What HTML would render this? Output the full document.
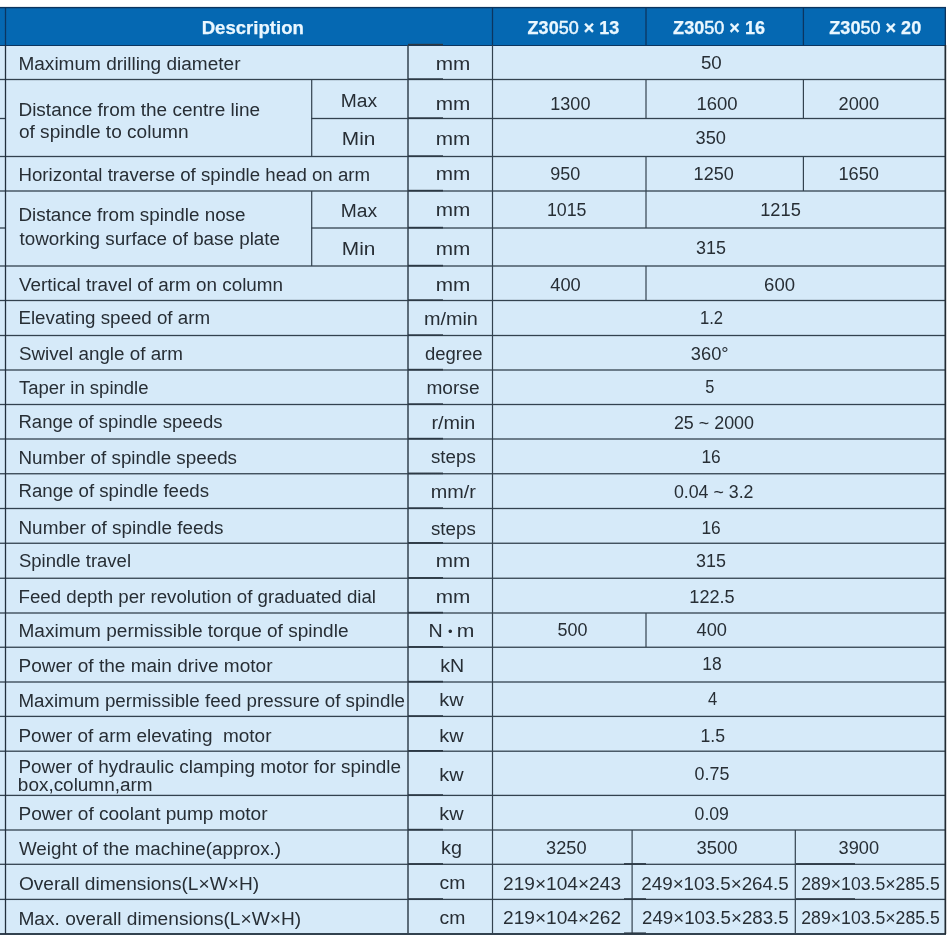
<!DOCTYPE html>
<html><head><meta charset="utf-8"><title>Z3050 specifications</title><style>
html,body{margin:0;padding:0;background:#fff;}
body{width:947px;height:939px;position:relative;overflow:hidden;font-family:"Liberation Sans",sans-serif;color:#272e35;}
#t{position:absolute;left:0;top:0;width:947px;height:939px;overflow:hidden;}
.bg{position:absolute;left:0;top:45px;width:946px;height:889px;background:#d6eaf9;}
.hd{position:absolute;left:0;top:7px;width:946px;height:38px;background:#0568b2;}
.l{position:absolute;}
.h{position:absolute;height:1px;background:#33424f;}
.v{position:absolute;width:1px;background:#33424f;}
.hv{position:absolute;width:1px;background:#0b3560;}
.x{position:absolute;white-space:pre;font-size:18px;line-height:20px;height:20px;transform-origin:0 0;}
.hx{color:#eaf7ff;font-weight:bold;font-size:18.7px;-webkit-text-stroke:0.25px #eaf7ff;}
.hx i{font-style:normal;font-weight:normal;-webkit-text-stroke:0.5px #eaf7ff;}

</style></head><body><div id="t">
<div class="bg"></div><div class="hd"></div>
<div class="h" style="left:0;top:44.5px;width:946px;height:1.5px;background:#0b3560"></div>
<div class="h" style="left:0;top:933px;width:946px;height:1.5px"></div>
<div class="l" style="left:0px;top:6px;width:946px;height:3px;background:linear-gradient(to bottom,rgba(11,53,96,0.10) 0px 1px,rgba(11,53,96,1.00) 1px 2px,rgba(11,53,96,0.30) 2px 3px)"></div>
<div class="l" style="left:0px;top:78px;width:946px;height:3px;background:linear-gradient(to bottom,rgba(51,66,79,0.15) 0px 1px,rgba(51,66,79,1.00) 1px 2px,rgba(51,66,79,0.15) 2px 3px)"></div>
<div class="l" style="left:0px;top:155px;width:946px;height:3px;background:linear-gradient(to bottom,rgba(51,66,79,0.15) 0px 1px,rgba(51,66,79,1.00) 1px 2px,rgba(51,66,79,0.15) 2px 3px)"></div>
<div class="l" style="left:0px;top:190px;width:946px;height:2px;background:linear-gradient(to bottom,rgba(51,66,79,0.65) 0px 1px,rgba(51,66,79,0.65) 1px 2px)"></div>
<div class="l" style="left:0px;top:265px;width:946px;height:2px;background:linear-gradient(to bottom,rgba(51,66,79,0.65) 0px 1px,rgba(51,66,79,0.65) 1px 2px)"></div>
<div class="l" style="left:0px;top:299px;width:946px;height:3px;background:linear-gradient(to bottom,rgba(51,66,79,0.15) 0px 1px,rgba(51,66,79,1.00) 1px 2px,rgba(51,66,79,0.15) 2px 3px)"></div>
<div class="l" style="left:0px;top:334px;width:946px;height:3px;background:linear-gradient(to bottom,rgba(51,66,79,0.15) 0px 1px,rgba(51,66,79,1.00) 1px 2px,rgba(51,66,79,0.15) 2px 3px)"></div>
<div class="l" style="left:0px;top:369px;width:946px;height:2px;background:linear-gradient(to bottom,rgba(51,66,79,0.65) 0px 1px,rgba(51,66,79,0.65) 1px 2px)"></div>
<div class="l" style="left:0px;top:403px;width:946px;height:3px;background:linear-gradient(to bottom,rgba(51,66,79,0.15) 0px 1px,rgba(51,66,79,1.00) 1px 2px,rgba(51,66,79,0.15) 2px 3px)"></div>
<div class="l" style="left:0px;top:438px;width:946px;height:2px;background:linear-gradient(to bottom,rgba(51,66,79,0.65) 0px 1px,rgba(51,66,79,0.65) 1px 2px)"></div>
<div class="l" style="left:0px;top:473px;width:946px;height:2px;background:linear-gradient(to bottom,rgba(51,66,79,0.90) 0px 1px,rgba(51,66,79,0.40) 1px 2px)"></div>
<div class="l" style="left:0px;top:507px;width:946px;height:3px;background:linear-gradient(to bottom,rgba(51,66,79,0.15) 0px 1px,rgba(51,66,79,1.00) 1px 2px,rgba(51,66,79,0.15) 2px 3px)"></div>
<div class="l" style="left:0px;top:542px;width:946px;height:2px;background:linear-gradient(to bottom,rgba(51,66,79,0.40) 0px 1px,rgba(51,66,79,0.90) 1px 2px)"></div>
<div class="l" style="left:0px;top:577px;width:946px;height:2px;background:linear-gradient(to bottom,rgba(51,66,79,0.40) 0px 1px,rgba(51,66,79,0.90) 1px 2px)"></div>
<div class="l" style="left:0px;top:612px;width:946px;height:2px;background:linear-gradient(to bottom,rgba(51,66,79,0.65) 0px 1px,rgba(51,66,79,0.65) 1px 2px)"></div>
<div class="l" style="left:0px;top:646px;width:946px;height:2px;background:linear-gradient(to bottom,rgba(51,66,79,0.40) 0px 1px,rgba(51,66,79,0.90) 1px 2px)"></div>
<div class="l" style="left:0px;top:681px;width:946px;height:2px;background:linear-gradient(to bottom,rgba(51,66,79,0.65) 0px 1px,rgba(51,66,79,0.65) 1px 2px)"></div>
<div class="l" style="left:0px;top:715px;width:946px;height:3px;background:linear-gradient(to bottom,rgba(51,66,79,0.25) 0px 1px,rgba(51,66,79,1.00) 1px 2px,rgba(51,66,79,0.05) 2px 3px)"></div>
<div class="l" style="left:0px;top:750px;width:946px;height:2px;background:linear-gradient(to bottom,rgba(51,66,79,0.45) 0px 1px,rgba(51,66,79,0.85) 1px 2px)"></div>
<div class="l" style="left:0px;top:794px;width:946px;height:3px;background:linear-gradient(to bottom,rgba(51,66,79,0.25) 0px 1px,rgba(51,66,79,1.00) 1px 2px,rgba(51,66,79,0.05) 2px 3px)"></div>
<div class="l" style="left:0px;top:829px;width:946px;height:2px;background:linear-gradient(to bottom,rgba(51,66,79,0.65) 0px 1px,rgba(51,66,79,0.65) 1px 2px)"></div>
<div class="l" style="left:0px;top:863px;width:946px;height:2px;background:linear-gradient(to bottom,rgba(51,66,79,0.35) 0px 1px,rgba(51,66,79,0.95) 1px 2px)"></div>
<div class="l" style="left:0px;top:898px;width:946px;height:3px;background:linear-gradient(to bottom,rgba(51,66,79,0.25) 0px 1px,rgba(51,66,79,1.00) 1px 2px,rgba(51,66,79,0.05) 2px 3px)"></div>
<div class="l" style="left:0px;top:117px;width:5px;height:3px;background:linear-gradient(to bottom,rgba(51,66,79,0.15) 0px 1px,rgba(51,66,79,1.00) 1px 2px,rgba(51,66,79,0.15) 2px 3px)"></div>
<div class="l" style="left:311px;top:117px;width:635px;height:3px;background:linear-gradient(to bottom,rgba(51,66,79,0.15) 0px 1px,rgba(51,66,79,1.00) 1px 2px,rgba(51,66,79,0.15) 2px 3px)"></div>
<div class="l" style="left:0px;top:227px;width:5px;height:2px;background:linear-gradient(to bottom,rgba(51,66,79,0.65) 0px 1px,rgba(51,66,79,0.65) 1px 2px)"></div>
<div class="l" style="left:311px;top:227px;width:635px;height:2px;background:linear-gradient(to bottom,rgba(51,66,79,0.65) 0px 1px,rgba(51,66,79,0.65) 1px 2px)"></div>
<div class="l" style="left:4px;top:45px;width:3px;height:889px;background:linear-gradient(to right,rgba(34,48,61,0.15) 0px 1px,rgba(34,48,61,1.00) 1px 2px,rgba(34,48,61,0.15) 2px 3px)"></div>
<div class="l" style="left:407px;top:45px;width:2px;height:889px;background:linear-gradient(to right,rgba(51,66,79,0.75) 0px 1px,rgba(51,66,79,0.75) 1px 2px)"></div>
<div class="l" style="left:491px;top:45px;width:3px;height:889px;background:linear-gradient(to right,rgba(51,66,79,0.10) 0px 1px,rgba(51,66,79,1.00) 1px 2px,rgba(51,66,79,0.10) 2px 3px)"></div>
<div class="l" style="left:944px;top:45px;width:3px;height:889px;background:linear-gradient(to right,rgba(35,43,50,0.50) 0px 1px,rgba(35,43,50,1.00) 1px 2px,rgba(35,43,50,0.20) 2px 3px)"></div>
<div class="l" style="left:311px;top:79.5px;width:2px;height:77px;background:linear-gradient(to right,rgba(51,66,79,0.90) 0px 1px,rgba(51,66,79,0.30) 1px 2px)"></div>
<div class="l" style="left:311px;top:191px;width:2px;height:75px;background:linear-gradient(to right,rgba(51,66,79,0.90) 0px 1px,rgba(51,66,79,0.30) 1px 2px)"></div>
<div class="l" style="left:645px;top:79.5px;width:2px;height:39px;background:linear-gradient(to right,rgba(51,66,79,0.60) 0px 1px,rgba(51,66,79,0.60) 1px 2px)"></div>
<div class="l" style="left:802px;top:79.5px;width:2px;height:39px;background:linear-gradient(to right,rgba(51,66,79,0.20) 0px 1px,rgba(51,66,79,1.00) 1px 2px)"></div>
<div class="l" style="left:645px;top:156.5px;width:2px;height:34.5px;background:linear-gradient(to right,rgba(51,66,79,0.60) 0px 1px,rgba(51,66,79,0.60) 1px 2px)"></div>
<div class="l" style="left:802px;top:156.5px;width:2px;height:34.5px;background:linear-gradient(to right,rgba(51,66,79,0.20) 0px 1px,rgba(51,66,79,1.00) 1px 2px)"></div>
<div class="l" style="left:645px;top:191px;width:2px;height:37px;background:linear-gradient(to right,rgba(51,66,79,0.60) 0px 1px,rgba(51,66,79,0.60) 1px 2px)"></div>
<div class="l" style="left:645px;top:266px;width:2px;height:34.5px;background:linear-gradient(to right,rgba(51,66,79,0.60) 0px 1px,rgba(51,66,79,0.60) 1px 2px)"></div>
<div class="l" style="left:645px;top:613px;width:2px;height:34.25px;background:linear-gradient(to right,rgba(51,66,79,0.60) 0px 1px,rgba(51,66,79,0.60) 1px 2px)"></div>
<div class="l" style="left:631px;top:830px;width:2px;height:104px;background:linear-gradient(to right,rgba(51,66,79,0.50) 0px 1px,rgba(51,66,79,0.70) 1px 2px)"></div>
<div class="l" style="left:794px;top:830px;width:2px;height:104px;background:linear-gradient(to right,rgba(51,66,79,0.30) 0px 1px,rgba(51,66,79,0.90) 1px 2px)"></div>
<div class="l" style="left:408px;top:43px;width:35px;height:3px;background:linear-gradient(to bottom,rgba(44,57,69,0.20) 0px 1px,rgba(44,57,69,1.00) 1px 2px,rgba(44,57,69,0.50) 2px 3px)"></div>
<div class="l" style="left:408px;top:78px;width:35px;height:2px;background:linear-gradient(to bottom,rgba(44,57,69,0.70) 0px 1px,rgba(44,57,69,1.00) 1px 2px)"></div>
<div class="l" style="left:408px;top:155px;width:35px;height:2px;background:linear-gradient(to bottom,rgba(44,57,69,0.70) 0px 1px,rgba(44,57,69,1.00) 1px 2px)"></div>
<div class="l" style="left:408px;top:189px;width:35px;height:3px;background:linear-gradient(to bottom,rgba(44,57,69,0.20) 0px 1px,rgba(44,57,69,1.00) 1px 2px,rgba(44,57,69,0.50) 2px 3px)"></div>
<div class="l" style="left:408px;top:264px;width:35px;height:3px;background:linear-gradient(to bottom,rgba(44,57,69,0.20) 0px 1px,rgba(44,57,69,1.00) 1px 2px,rgba(44,57,69,0.50) 2px 3px)"></div>
<div class="l" style="left:408px;top:299px;width:35px;height:2px;background:linear-gradient(to bottom,rgba(44,57,69,0.70) 0px 1px,rgba(44,57,69,1.00) 1px 2px)"></div>
<div class="l" style="left:408px;top:334px;width:35px;height:2px;background:linear-gradient(to bottom,rgba(44,57,69,0.70) 0px 1px,rgba(44,57,69,1.00) 1px 2px)"></div>
<div class="l" style="left:408px;top:368px;width:35px;height:3px;background:linear-gradient(to bottom,rgba(44,57,69,0.20) 0px 1px,rgba(44,57,69,1.00) 1px 2px,rgba(44,57,69,0.50) 2px 3px)"></div>
<div class="l" style="left:408px;top:403px;width:35px;height:2px;background:linear-gradient(to bottom,rgba(44,57,69,0.70) 0px 1px,rgba(44,57,69,1.00) 1px 2px)"></div>
<div class="l" style="left:408px;top:437px;width:35px;height:3px;background:linear-gradient(to bottom,rgba(44,57,69,0.20) 0px 1px,rgba(44,57,69,1.00) 1px 2px,rgba(44,57,69,0.50) 2px 3px)"></div>
<div class="l" style="left:408px;top:472px;width:35px;height:3px;background:linear-gradient(to bottom,rgba(44,57,69,0.45) 0px 1px,rgba(44,57,69,1.00) 1px 2px,rgba(44,57,69,0.25) 2px 3px)"></div>
<div class="l" style="left:408px;top:507px;width:35px;height:2px;background:linear-gradient(to bottom,rgba(44,57,69,0.70) 0px 1px,rgba(44,57,69,1.00) 1px 2px)"></div>
<div class="l" style="left:408px;top:542px;width:35px;height:2px;background:linear-gradient(to bottom,rgba(44,57,69,0.95) 0px 1px,rgba(44,57,69,0.75) 1px 2px)"></div>
<div class="l" style="left:408px;top:577px;width:35px;height:2px;background:linear-gradient(to bottom,rgba(44,57,69,0.95) 0px 1px,rgba(44,57,69,0.75) 1px 2px)"></div>
<div class="l" style="left:408px;top:611px;width:35px;height:3px;background:linear-gradient(to bottom,rgba(44,57,69,0.20) 0px 1px,rgba(44,57,69,1.00) 1px 2px,rgba(44,57,69,0.50) 2px 3px)"></div>
<div class="l" style="left:408px;top:646px;width:35px;height:2px;background:linear-gradient(to bottom,rgba(44,57,69,0.95) 0px 1px,rgba(44,57,69,0.75) 1px 2px)"></div>
<div class="l" style="left:408px;top:680px;width:35px;height:3px;background:linear-gradient(to bottom,rgba(44,57,69,0.20) 0px 1px,rgba(44,57,69,1.00) 1px 2px,rgba(44,57,69,0.50) 2px 3px)"></div>
<div class="l" style="left:408px;top:715px;width:35px;height:2px;background:linear-gradient(to bottom,rgba(44,57,69,0.80) 0px 1px,rgba(44,57,69,0.90) 1px 2px)"></div>
<div class="l" style="left:408px;top:750px;width:35px;height:2px;background:linear-gradient(to bottom,rgba(44,57,69,1.00) 0px 1px,rgba(44,57,69,0.70) 1px 2px)"></div>
<div class="l" style="left:408px;top:794px;width:35px;height:2px;background:linear-gradient(to bottom,rgba(44,57,69,0.80) 0px 1px,rgba(44,57,69,0.90) 1px 2px)"></div>
<div class="l" style="left:408px;top:828px;width:35px;height:3px;background:linear-gradient(to bottom,rgba(44,57,69,0.20) 0px 1px,rgba(44,57,69,1.00) 1px 2px,rgba(44,57,69,0.50) 2px 3px)"></div>
<div class="l" style="left:408px;top:863px;width:35px;height:2px;background:linear-gradient(to bottom,rgba(44,57,69,0.90) 0px 1px,rgba(44,57,69,0.80) 1px 2px)"></div>
<div class="l" style="left:408px;top:898px;width:35px;height:2px;background:linear-gradient(to bottom,rgba(44,57,69,0.80) 0px 1px,rgba(44,57,69,0.90) 1px 2px)"></div>
<div class="l" style="left:408px;top:117px;width:35px;height:2px;background:linear-gradient(to bottom,rgba(44,57,69,0.70) 0px 1px,rgba(44,57,69,1.00) 1px 2px)"></div>
<div class="l" style="left:408px;top:226px;width:35px;height:3px;background:linear-gradient(to bottom,rgba(44,57,69,0.20) 0px 1px,rgba(44,57,69,1.00) 1px 2px,rgba(44,57,69,0.50) 2px 3px)"></div>
<div class="l" style="left:624px;top:863px;width:22px;height:2px;background:linear-gradient(to bottom,rgba(44,57,69,0.90) 0px 1px,rgba(44,57,69,0.80) 1px 2px)"></div>
<div class="l" style="left:624px;top:898px;width:22px;height:2px;background:linear-gradient(to bottom,rgba(44,57,69,0.80) 0px 1px,rgba(44,57,69,0.90) 1px 2px)"></div>
<div class="l" style="left:624px;top:932px;width:22px;height:3px;background:linear-gradient(to bottom,rgba(44,57,69,0.60) 0px 1px,rgba(44,57,69,1.00) 1px 2px,rgba(44,57,69,0.10) 2px 3px)"></div>
<div class="l" style="left:796px;top:863px;width:59px;height:2px;background:linear-gradient(to bottom,rgba(44,57,69,0.90) 0px 1px,rgba(44,57,69,0.80) 1px 2px)"></div>
<div class="l" style="left:796px;top:898px;width:59px;height:2px;background:linear-gradient(to bottom,rgba(44,57,69,0.80) 0px 1px,rgba(44,57,69,0.90) 1px 2px)"></div>
<div class="l" style="left:4px;top:7px;width:3px;height:38px;background:linear-gradient(to right,rgba(11,53,96,0.15) 0px 1px,rgba(11,53,96,1.00) 1px 2px,rgba(11,53,96,0.15) 2px 3px)"></div>
<div class="l" style="left:491px;top:7px;width:3px;height:38px;background:linear-gradient(to right,rgba(11,53,96,0.15) 0px 1px,rgba(11,53,96,1.00) 1px 2px,rgba(11,53,96,0.15) 2px 3px)"></div>
<div class="l" style="left:645px;top:7px;width:2px;height:38px;background:linear-gradient(to right,rgba(11,53,96,0.65) 0px 1px,rgba(11,53,96,0.65) 1px 2px)"></div>
<div class="l" style="left:802px;top:7px;width:3px;height:38px;background:linear-gradient(to right,rgba(11,53,96,0.25) 0px 1px,rgba(11,53,96,1.00) 1px 2px,rgba(11,53,96,0.05) 2px 3px)"></div>
<div class="l" style="left:944px;top:7px;width:2px;height:38px;background:linear-gradient(to right,rgba(11,53,96,0.30) 0px 1px,rgba(11,53,96,1.00) 1px 2px)"></div>
<div class="x hx" style="left:201px;top:17px;transform:translate(0.71px,0.50px) scaleX(0.9932)">Description</div>
<div class="x hx" style="left:527px;top:17px;transform:translate(0.60px,0.50px) scaleX(0.9643)">Z30<i>50</i> × 13</div>
<div class="x hx" style="left:673px;top:17px;transform:translate(0.10px,0.50px) scaleX(0.9664)">Z30<i>50</i> × 16</div>
<div class="x hx" style="left:829px;top:17px;transform:translate(0.30px,0.50px) scaleX(0.9664)">Z30<i>50</i> × 20</div>
<div class="x" style="left:18px;top:53px;transform:translate(0.44px,0.90px) scaleX(1.0571)">Maximum drilling diameter</div>
<div class="x" style="left:18px;top:99px;transform:translate(0.45px,0.90px) scaleX(1.0544)">Distance from the centre line</div>
<div class="x" style="left:18px;top:121px;transform:translate(0.90px,0.60px) scaleX(1.0598)">of spindle to column</div>
<div class="x" style="left:18px;top:164px;transform:translate(0.46px,0.60px) scaleX(1.0365)">Horizontal traverse of spindle head on arm</div>
<div class="x" style="left:18px;top:204px;transform:translate(0.45px,0.50px) scaleX(1.0458)">Distance from spindle nose</div>
<div class="x" style="left:19px;top:228px;transform:translate(0.50px,0.50px) scaleX(1.0456)">toworking surface of base plate</div>
<div class="x" style="left:18px;top:275px;transform:translate(0.90px,0.20px) scaleX(1.0478)">Vertical travel of arm on column</div>
<div class="x" style="left:18px;top:308px;transform:translate(0.46px,0.40px) scaleX(1.0406)">Elevating speed of arm</div>
<div class="x" style="left:18px;top:343px;transform:translate(0.90px,0.90px) scaleX(1.0450)">Swivel angle of arm</div>
<div class="x" style="left:18px;top:377px;transform:translate(0.90px,0.90px) scaleX(1.0280)">Taper in spindle</div>
<div class="x" style="left:18px;top:412px;transform:translate(0.47px,0.40px) scaleX(1.0297)">Range of spindle speeds</div>
<div class="x" style="left:18px;top:447px;transform:translate(0.45px,0.70px) scaleX(1.0451)">Number of spindle speeds</div>
<div class="x" style="left:18px;top:481px;transform:translate(0.47px,0.40px) scaleX(1.0348)">Range of spindle feeds</div>
<div class="x" style="left:18px;top:518px;transform:translate(0.45px,0.00px) scaleX(1.0510)">Number of spindle feeds</div>
<div class="x" style="left:18px;top:551px;transform:translate(0.90px,0.40px) scaleX(1.0281)">Spindle travel</div>
<div class="x" style="left:18px;top:586px;transform:translate(0.46px,0.50px) scaleX(1.0387)">Feed depth per revolution of graduated dial</div>
<div class="x" style="left:18px;top:621px;transform:translate(0.44px,0.20px) scaleX(1.0575)">Maximum permissible torque of spindle</div>
<div class="x" style="left:18px;top:656px;transform:translate(0.44px,0.00px) scaleX(1.0581)">Power of the main drive motor</div>
<div class="x" style="left:18px;top:690px;transform:translate(0.46px,0.50px) scaleX(1.0415)">Maximum permissible feed pressure of spindle</div>
<div class="x" style="left:18px;top:725px;transform:translate(0.45px,0.50px) scaleX(1.0539)">Power of arm elevating  motor</div>
<div class="x" style="left:18px;top:757px;transform:translate(0.45px,0.30px) scaleX(1.0505)">Power of hydraulic clamping motor for spindle</div>
<div class="x" style="left:17px;top:775px;transform:translate(0.85px,0.10px) scaleX(1.0519)">box,column,arm</div>
<div class="x" style="left:18px;top:803px;transform:translate(0.44px,0.90px) scaleX(1.0593)">Power of coolant pump motor</div>
<div class="x" style="left:18px;top:838px;transform:translate(0.90px,0.50px) scaleX(1.0452)">Weight of the machine(approx.)</div>
<div class="x" style="left:18px;top:873px;transform:translate(0.90px,0.60px) scaleX(1.0623)">Overall dimensions(L×W×H)</div>
<div class="x" style="left:18px;top:908px;transform:translate(0.44px,0.50px) scaleX(1.0621)">Max. overall dimensions(L×W×H)</div>
<div class="x" style="left:340px;top:91px;transform:translate(0.68px,0.00px) scaleX(1.0680)">Max</div>
<div class="x" style="left:341px;top:128px;transform:translate(0.84px,0.50px) scaleX(1.1577)">Min</div>
<div class="x" style="left:340px;top:200px;transform:translate(0.68px,0.50px) scaleX(1.0680)">Max</div>
<div class="x" style="left:341px;top:239px;transform:translate(0.84px,0.00px) scaleX(1.1577)">Min</div>
<div class="x" style="left:435px;top:53px;transform:translate(0.85px,0.50px) scaleX(1.1520)">mm</div>
<div class="x" style="left:435px;top:94px;transform:translate(0.85px,0.00px) scaleX(1.1520)">mm</div>
<div class="x" style="left:435px;top:129px;transform:translate(0.85px,0.00px) scaleX(1.1520)">mm</div>
<div class="x" style="left:435px;top:164px;transform:translate(0.85px,0.00px) scaleX(1.1520)">mm</div>
<div class="x" style="left:435px;top:199px;transform:translate(0.85px,0.50px) scaleX(1.1520)">mm</div>
<div class="x" style="left:435px;top:238px;transform:translate(0.85px,0.50px) scaleX(1.1520)">mm</div>
<div class="x" style="left:435px;top:274px;transform:translate(0.85px,0.75px) scaleX(1.1520)">mm</div>
<div class="x" style="left:435px;top:551px;transform:translate(0.85px,0.00px) scaleX(1.1520)">mm</div>
<div class="x" style="left:435px;top:586px;transform:translate(0.85px,0.50px) scaleX(1.1520)">mm</div>
<div class="x" style="left:423px;top:309px;transform:translate(0.90px,0.00px) scaleX(1.1013)">m/min</div>
<div class="x" style="left:425px;top:343px;transform:translate(0.00px,0.50px) scaleX(1.0261)">degree</div>
<div class="x" style="left:426px;top:377px;transform:translate(0.44px,0.50px) scaleX(1.0612)">morse</div>
<div class="x" style="left:431px;top:412px;transform:translate(0.40px,0.75px) scaleX(1.0990)">r/min</div>
<div class="x" style="left:431px;top:447px;transform:translate(0.00px,0.00px) scaleX(1.0402)">steps</div>
<div class="x" style="left:430px;top:482px;transform:translate(0.65px,0.25px) scaleX(1.1003)">mm/r</div>
<div class="x" style="left:431px;top:518px;transform:translate(0.00px,0.50px) scaleX(1.0402)">steps</div>
<div class="x" style="left:428px;top:621px;transform:translate(0.41px,0.00px) scaleX(1.0909)">N</div>
<div class="x" style="left:456px;top:621px;transform:translate(0.83px,0.00px) scaleX(1.1731)">m</div>
<div class="x" style="left:440px;top:656px;transform:translate(0.16px,0.00px) scaleX(1.0875)">kN</div>
<div class="x" style="left:439px;top:690px;transform:translate(0.20px,0.30px) scaleX(1.1045)">kw</div>
<div class="x" style="left:439px;top:725px;transform:translate(0.20px,0.90px) scaleX(1.1045)">kw</div>
<div class="x" style="left:439px;top:764px;transform:translate(0.20px,0.70px) scaleX(1.1045)">kw</div>
<div class="x" style="left:439px;top:803px;transform:translate(0.20px,0.90px) scaleX(1.1045)">kw</div>
<div class="x" style="left:441px;top:838px;transform:translate(0.00px,0.20px) scaleX(1.1000)">kg</div>
<div class="x" style="left:439px;top:873px;transform:translate(0.60px,0.30px) scaleX(1.0739)">cm</div>
<div class="x" style="left:439px;top:908px;transform:translate(0.60px,0.10px) scaleX(1.0739)">cm</div>
<div class="x" style="left:700px;top:53px;transform:translate(0.90px,0.10px) scaleX(1.0394)">50</div>
<div class="x" style="left:550px;top:93px;transform:translate(0.30px,0.70px) scaleX(1.0017)">1300</div>
<div class="x" style="left:696px;top:93px;transform:translate(0.47px,0.70px) scaleX(1.0274)">1600</div>
<div class="x" style="left:838px;top:93px;transform:translate(0.50px,0.70px) scaleX(1.0117)">2000</div>
<div class="x" style="left:695px;top:128px;transform:translate(0.60px,0.40px) scaleX(1.0126)">350</div>
<div class="x" style="left:550px;top:164px;transform:translate(0.30px,0.10px) scaleX(0.9993)">950</div>
<div class="x" style="left:693px;top:164px;transform:translate(0.60px,0.10px) scaleX(1.0017)">1250</div>
<div class="x" style="left:838px;top:164px;transform:translate(0.39px,0.10px) scaleX(1.0145)">1650</div>
<div class="x" style="left:546px;top:200px;transform:translate(0.91px,0.30px) scaleX(0.9889)">1015</div>
<div class="x" style="left:760px;top:200px;transform:translate(0.19px,0.30px) scaleX(1.0145)">1215</div>
<div class="x" style="left:696px;top:237px;transform:translate(0.10px,0.50px) scaleX(0.9960)">315</div>
<div class="x" style="left:550px;top:274px;transform:translate(0.30px,0.60px) scaleX(1.0126)">400</div>
<div class="x" style="left:764px;top:274px;transform:translate(0.10px,0.60px) scaleX(1.0293)">600</div>
<div class="x" style="left:699px;top:308px;transform:translate(0.98px,0.40px) scaleX(0.9245)">1.2</div>
<div class="x" style="left:690px;top:343px;transform:translate(0.80px,0.60px) scaleX(1.0153)">360°</div>
<div class="x" style="left:705px;top:377px;transform:translate(0.30px,0.40px) scaleX(0.9100)">5</div>
<div class="x" style="left:673px;top:412px;transform:translate(0.90px,0.60px) scaleX(0.9942)">25 ~ 2000</div>
<div class="x" style="left:701px;top:446px;transform:translate(0.44px,0.90px) scaleX(0.9626)">16</div>
<div class="x" style="left:673px;top:482px;transform:translate(0.90px,0.00px) scaleX(0.9881)">0.04 ~ 3.2</div>
<div class="x" style="left:701px;top:518px;transform:translate(0.44px,0.20px) scaleX(0.9626)">16</div>
<div class="x" style="left:696px;top:550px;transform:translate(0.10px,0.50px) scaleX(0.9960)">315</div>
<div class="x" style="left:689px;top:586px;transform:translate(0.29px,0.70px) scaleX(1.0083)">122.5</div>
<div class="x" style="left:557px;top:619px;transform:translate(0.60px,0.50px) scaleX(0.9960)">500</div>
<div class="x" style="left:696px;top:619px;transform:translate(0.60px,0.50px) scaleX(1.0126)">400</div>
<div class="x" style="left:702px;top:654px;transform:translate(0.33px,0.30px) scaleX(0.9679)">18</div>
<div class="x" style="left:708px;top:689px;transform:translate(0.10px,0.10px) scaleX(0.9200)">4</div>
<div class="x" style="left:700px;top:725px;transform:translate(0.42px,0.80px) scaleX(0.9829)">1.5</div>
<div class="x" style="left:694px;top:764px;transform:translate(0.60px,0.40px) scaleX(0.9936)">0.75</div>
<div class="x" style="left:694px;top:804px;transform:translate(0.60px,0.00px) scaleX(0.9794)">0.09</div>
<div class="x" style="left:546px;top:837px;transform:translate(0.00px,0.70px) scaleX(1.0117)">3250</div>
<div class="x" style="left:696px;top:837px;transform:translate(0.60px,0.70px) scaleX(1.0242)">3500</div>
<div class="x" style="left:838px;top:837px;transform:translate(0.50px,0.70px) scaleX(1.0117)">3900</div>
<div class="x" style="left:503px;top:873px;transform:translate(0.00px,0.50px) scaleX(1.0620)">219×104×243</div>
<div class="x" style="left:641px;top:873px;transform:translate(0.25px,0.50px) scaleX(1.0448)">249×103.5×264.5</div>
<div class="x" style="left:801px;top:873px;transform:translate(0.30px,0.50px) scaleX(0.9813)">289×103.5×285.5</div>
<div class="x" style="left:503px;top:908px;transform:translate(0.00px,0.25px) scaleX(1.0620)">219×104×262</div>
<div class="x" style="left:642px;top:908px;transform:translate(0.00px,0.25px) scaleX(1.0394)">249×103.5×283.5</div>
<div class="x" style="left:801px;top:908px;transform:translate(0.30px,0.25px) scaleX(0.9813)">289×103.5×285.5</div>
<div class="x" style="left:448px;top:621px;font-size:13px;transform:translate(-0.1px,0.9px)">•</div>
</div></body></html>
